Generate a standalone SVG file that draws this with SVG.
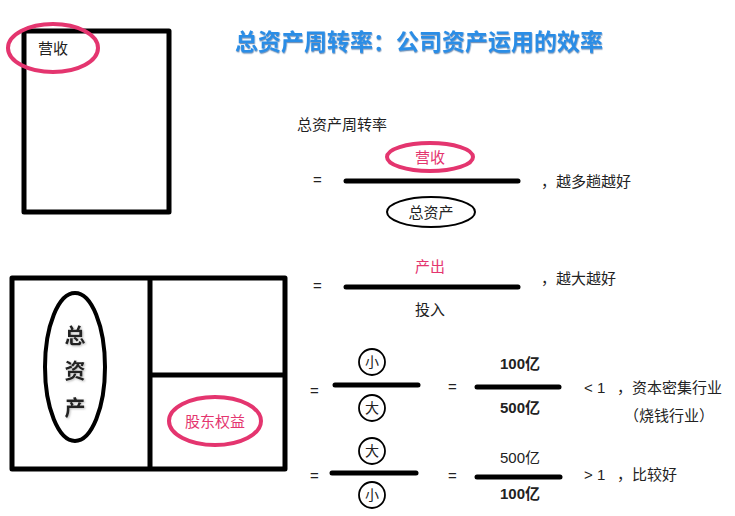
<svg xmlns="http://www.w3.org/2000/svg" width="735" height="516" viewBox="0 0 735 516">
<defs>
<style>
text{font-family:"Liberation Sans","Noto Sans CJK SC",sans-serif;fill:#222;}
.t{font-size:15px;}
.c{text-anchor:middle;}
.pk{fill:#e4356f;}
.b{font-weight:bold;}
.box{fill:none;stroke:#000;stroke-width:5;stroke-linejoin:round;}
.bar{stroke:#000;stroke-width:5;stroke-linecap:round;}
.pe{fill:none;stroke:#e4356f;stroke-width:4;}
.be{fill:none;stroke:#000;stroke-width:2;}
.circ{fill:none;stroke:#000;stroke-width:1.8;}
.ct{font-size:14px;text-anchor:middle;}
</style>
<filter id="sh" x="-10%" y="-20%" width="120%" height="150%">
<feDropShadow dx="0.5" dy="1.2" stdDeviation="0.6" flood-color="#1b4f8a" flood-opacity="0.6"/>
</filter>
<filter id="ws" x="-20%" y="-20%" width="140%" height="140%">
<feDropShadow dx="1" dy="1" stdDeviation="0.8" flood-color="#888" flood-opacity="0.6"/>
</filter>
</defs>

<g id="revenue-box">
<rect class="box" x="24" y="31" width="145" height="181"/>
<ellipse class="pe" cx="53" cy="48" rx="45" ry="24"/>
<text class="t" x="38" y="54">营收</text>
</g>

<g id="title">
<text x="235" y="50" font-size="23" class="b" style="fill:#2b8de6" filter="url(#sh)">总资产周转率：公司资产运用的效率</text>
</g>

<g id="formula-1">
<text class="t" x="297" y="130">总资产周转率</text>
<text class="t" x="313" y="185">=</text>
<line class="bar" x1="346" y1="181" x2="518" y2="181"/>
<ellipse class="pe" cx="430" cy="157" rx="43" ry="14" stroke-width="2"/>
<text class="t c pk" x="430" y="163">营收</text>
<ellipse class="be" cx="431" cy="212" rx="44" ry="15"/>
<text class="t c" x="431" y="218">总资产</text>
<text class="t" x="541" y="187">，越多趟越好</text>
</g>

<g id="formula-2">
<text class="t" x="313" y="291">=</text>
<line class="bar" x1="346" y1="287" x2="518" y2="287"/>
<text class="t c pk" x="430" y="272">产出</text>
<text class="t c" x="430" y="315">投入</text>
<text class="t" x="541" y="284">，越大越好</text>
</g>

<g id="balance-sheet">
<rect class="box" x="12" y="278" width="273" height="191"/>
<line class="box" x1="150" y1="278" x2="150" y2="469"/>
<line class="box" x1="150" y1="375" x2="285" y2="375"/>
<ellipse cx="75" cy="367" rx="30" ry="74" fill="none" stroke="#000" stroke-width="4"/>
<g filter="url(#ws)">
<text class="c b" x="75" y="343" font-size="21">总</text>
<text class="c b" x="75" y="378" font-size="21">资</text>
<text class="c b" x="75" y="415" font-size="21">产</text>
</g>
<ellipse class="pe" cx="215" cy="421" rx="46" ry="24"/>
<text class="t c pk" x="215" y="427">股东权益</text>
</g>

<g id="formula-3">
<text class="t" x="310" y="396">=</text>
<line class="bar" x1="335" y1="385" x2="418" y2="385"/>
<circle class="circ" cx="372" cy="362" r="13"/>
<text class="ct" x="372" y="367">小</text>
<circle class="circ" cx="372" cy="408" r="13"/>
<text class="ct" x="372" y="413">大</text>
<text class="t" x="448" y="392">=</text>
<line class="bar" x1="477" y1="387" x2="559" y2="387"/>
<text class="t c b" x="520" y="369">100亿</text>
<text class="t c b" x="520" y="413">500亿</text>
<text class="t" x="584" y="393">&lt; 1</text>
<text class="t" x="617" y="393">，资本密集行业</text>
<text class="t" x="624" y="421">（烧钱行业）</text>
</g>

<g id="formula-4">
<text class="t" x="310" y="481">=</text>
<line class="bar" x1="332" y1="473" x2="416" y2="473"/>
<circle class="circ" cx="372" cy="451" r="13"/>
<text class="ct" x="372" y="456">大</text>
<circle class="circ" cx="372" cy="495" r="13"/>
<text class="ct" x="372" y="500">小</text>
<text class="t" x="448" y="481">=</text>
<line class="bar" x1="477" y1="477" x2="560" y2="477"/>
<text class="t c" x="520" y="463">500亿</text>
<text class="t c b" x="520" y="499">100亿</text>
<text class="t" x="584" y="480">&gt; 1</text>
<text class="t" x="617" y="480">，比较好</text>
</g>
</svg>
